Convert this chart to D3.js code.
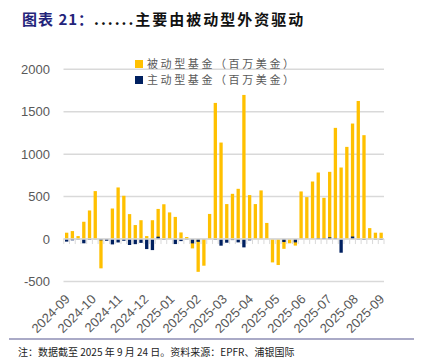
<!DOCTYPE html>
<html><head><meta charset="utf-8">
<script src="https://cdn.jsdelivr.net/npm/d3@7"></script>
<style>body{margin:0;background:#fff;}svg{display:block;}</style>
</head><body>
<script>
const weeks = d3.range(56).map(i => d3.timeFormat("%Y-%m-%d")(d3.timeDay.offset(new Date(2024, 8, 4), i * 7)));
const passive = [75,94,35,204,337,565,-345,-5,360,608,510,294,165,222,35,222,355,410,314,261,78,24,-110,-386,-314,296,1604,1137,412,533,592,1698,518,412,573,190,-275,-306,-115,-50,-77,561,494,678,784,486,792,1310,843,1086,1361,1627,1224,129,75,75];
const active = [-30,-15,-5,-50,-10,-3,-15,-20,-63,-40,-20,-70,-60,-45,-118,-130,28,-8,0,-59,-24,-5,-51,-33,-3,0,-8,-78,-43,-12,-39,-98,-15,0,0,0,0,0,-35,0,-39,0,0,0,10,10,20,10,-161,0,30,-5,-10,0,-5,-10];
const monthLabels = ["2024-09","2024-10","2024-11","2024-12","2025-01","2025-02","2025-03","2025-04","2025-05","2025-06","2025-07","2025-08","2025-09"];
const yTicks = [-500,0,500,1000,1500,2000];
const seriesNames = ["被动型基金（百万美金）","主动型基金（百万美金）"];
const colors = ["#FFC000","#002060"];

const W = 429, H = 363;
const svg = d3.select("body").append("svg").attr("width", W).attr("height", H);

// title
const title = svg.append("text").attr("x", 22).attr("y", 25)
  .attr("font-family", "Noto Sans CJK SC").attr("font-weight", "bold").attr("font-size", 15);
title.append("tspan").attr("fill", "#23237A").attr("letter-spacing", 1).text("图表 21：");
title.append("tspan").attr("fill", "#111").attr("letter-spacing", 2).text("......主要由被动型外资驱动");

const x = d3.scaleBand().domain(weeks).range([63.8, 384]).paddingInner(0.42).paddingOuter(0.21);
const y = d3.scaleLinear().domain([-500, 2000]).range([281.5, 69.3]);

// gridlines
svg.append("g").selectAll("line").data(yTicks).join("line")
  .attr("x1", 63.5).attr("x2", 384).attr("y1", d => y(d)).attr("y2", d => y(d))
  .attr("stroke", "#D9D9D9").attr("stroke-width", 1.5);

// y labels
svg.append("g").selectAll("text").data(yTicks).join("text")
  .attr("x", 50).attr("y", d => y(d)).attr("dy", "0.36em").attr("text-anchor", "end")
  .attr("font-family", "Liberation Sans, Arial").attr("font-size", 13).attr("fill", "#595959")
  .text(d => d);

// category tick marks on zero line
const step = x.step();
svg.append("g").selectAll("line").data(d3.range(57)).join("line")
  .attr("x1", i => 63.8 + i * step).attr("x2", i => 63.8 + i * step)
  .attr("y1", y(0)).attr("y2", y(0) + 5)
  .attr("stroke", "#D9D9D9").attr("stroke-width", 1);

// bars
svg.append("g").selectAll("rect").data(passive).join("rect")
  .attr("x", (d, i) => x(weeks[i])).attr("width", x.bandwidth())
  .attr("y", d => y(Math.max(0, d))).attr("height", d => Math.abs(y(d) - y(0)))
  .attr("fill", colors[0]);
svg.append("g").selectAll("rect").data(active).join("rect")
  .attr("x", (d, i) => x(weeks[i])).attr("width", x.bandwidth())
  .attr("y", d => y(Math.max(0, d))).attr("height", d => Math.abs(y(d) - y(0)))
  .attr("fill", colors[1]);

// zero axis line
svg.append("line").attr("x1", 63.5).attr("x2", 384).attr("y1", y(0)).attr("y2", y(0))
  .attr("stroke", "#D9D9D9").attr("stroke-width", 1.5);

// x labels
const xl = d3.scaleLinear().domain([0, monthLabels.length - 1])
  .range([x(weeks[0]) + x.bandwidth() / 2, x(weeks[55]) + x.bandwidth() / 2]);
svg.append("g").selectAll("text").data(monthLabels).join("text")
  .attr("transform", (d, i) => `translate(${xl(i) + 4},${300}) rotate(-45)`)
  .attr("text-anchor", "end")
  .attr("font-family", "Liberation Sans, Arial").attr("font-size", 13).attr("fill", "#595959")
  .text(d => d);

// legend
const lg = svg.append("g").selectAll("g").data(seriesNames).join("g")
  .attr("transform", (d, i) => `translate(135,${60 + i * 16})`);
lg.append("rect").attr("width", 8).attr("height", 8).attr("fill", (d, i) => colors[i]);
lg.append("text").attr("x", 12).attr("y", 4).attr("dy", "0.38em")
  .attr("font-family", "Noto Sans CJK SC").attr("font-size", 11).attr("letter-spacing", 2.6)
  .attr("fill", "#595959").text(d => d);

// separator and footnote
svg.append("line").attr("x1", 9).attr("x2", 414).attr("y1", 339).attr("y2", 339)
  .attr("stroke", "#8E8EB5").attr("stroke-width", 1.5);
svg.append("text").attr("x", 18).attr("y", 356)
  .attr("font-family", "Noto Sans CJK SC").attr("font-size", 10).attr("fill", "#222")
  .text("注：数据截至 2025 年 9 月 24 日。资料来源：EPFR、浦银国际");
</script>
</body></html>
